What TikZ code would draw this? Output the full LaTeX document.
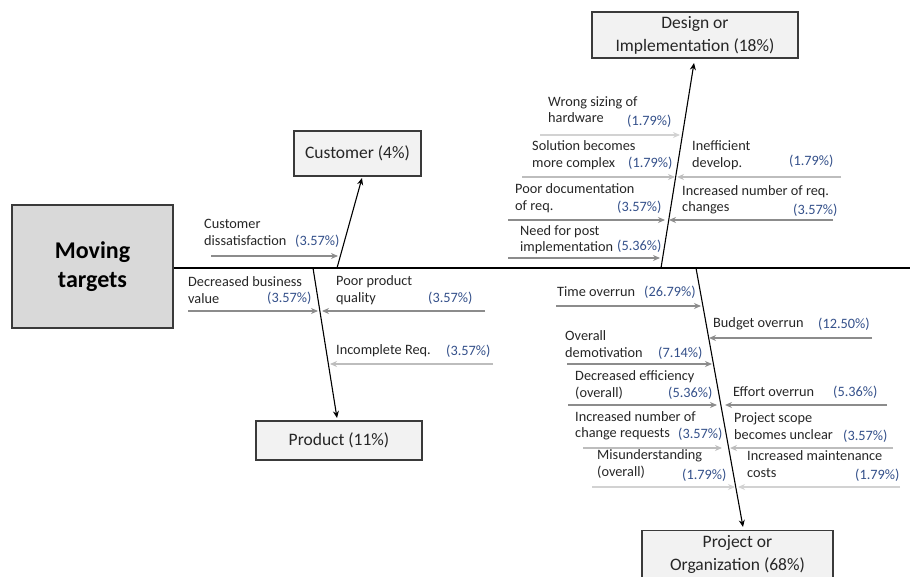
\documentclass[tikz,border=0pt]{standalone}
\usepackage{fontspec}
\setmainfont{Carlito}
\usetikzlibrary{arrows.meta}
\definecolor{pct}{HTML}{34508A}
\definecolor{txt}{HTML}{262626}
\definecolor{armid}{HTML}{8C8C8C}
\definecolor{arlight}{HTML}{BDBDBD}
\definecolor{arlighter}{HTML}{D2D2D2}
\definecolor{boxfill}{HTML}{F2F2F2}
\definecolor{mainfill}{HTML}{D9D9D9}
\definecolor{boxline}{HTML}{3A3A3A}
\tikzset{
  lbl/.style={anchor=west, inner sep=0pt, align=left, text=txt, font=\fontsize{14.3}{16.5}\selectfont},
  pc/.style={anchor=west, inner sep=0pt, text=pct, font=\fontsize{14.3}{16.5}\selectfont},
  causebox/.style={draw=boxline, line width=1.1pt, fill=boxfill, text=txt, align=center, inner sep=0pt, font=\fontsize{17.5}{23}\selectfont},
  bone/.style={line width=1.1pt, black, -{Stealth[length=7pt,width=6pt]}},
  cmid/.style={line width=1.8pt, armid, -{Stealth[length=7pt,width=6pt]}},
  clight/.style={line width=1.8pt, arlight, -{Stealth[length=7pt,width=6pt]}},
  clighter/.style={line width=1.8pt, arlighter, -{Stealth[length=7pt,width=6pt]}},
}
\begin{document}
\begin{tikzpicture}[x=1pt,y=-1pt]
\useasboundingbox (0,0) rectangle (910,577);
\clip (0,0) rectangle (910,577);
% head box
\node[draw=boxline, line width=1.1pt, fill=mainfill, minimum width=161pt, minimum height=123pt, align=center, inner sep=0pt, text=black, font=\fontsize{24}{29}\bfseries\selectfont] (head) at (92.5,266.5) {Moving\\targets};
% spine
\coordinate (spineend) at (912,268);
\draw[line width=2.2pt] (head.east |- 0,268) -- (spineend);
% cause boxes
\node[causebox, minimum width=127pt, minimum height=45pt] (cust) at (357.5,153.5) {Customer (4\%)};
\node[causebox, minimum width=166pt, minimum height=39pt] (prod) at (339,440.5) {Product (11\%)};
\node[causebox, minimum width=206pt, minimum height=46pt] (design) at (695,35) {Design or\\Implementation (18\%)};
\node[causebox, minimum width=191pt, anchor=north, inner ysep=5pt] (proj) at (737.5,530) {Project or\\Organization (68\%)\\[6pt]};
% bone coordinates
\coordinate (cbase) at (337,268); \coordinate (ctip) at (362,178);
\coordinate (pbase) at (313,268); \coordinate (ptip) at (337,418);
\coordinate (dbase) at (661,268); \coordinate (dtip) at (694,63);
\coordinate (obase) at (696,268); \coordinate (otip) at (743,527);
\draw[bone] (cbase) -- (ctip);
\draw[bone] (pbase) -- (ptip);
\draw[bone] (dbase) -- (dtip);
\draw[bone] (obase) -- (otip);
% customer
\node[lbl] (l1) at (204,232.5) {Customer\\dissatisfaction};
\node[pc] (p1) at (295,241) {(3.57\%)};
\draw[cmid] (211,256) -- (338,256);
% product
\node[lbl] (l2) at (188,290) {Decreased business\\value};
\node[pc] (p2) at (267,298) {(3.57\%)};
\draw[cmid] (188,311) -- (318,311);
\node[lbl] (l3) at (336,290) {Poor product\\quality};
\node[pc] (p3) at (428,298) {(3.57\%)};
\draw[cmid] (485,311) -- (322,311);
\node[lbl] (l4) at (336,351) {Incomplete Req.};
\node[pc] (p4) at (446,351) {(3.57\%)};
\draw[clight] (493,364) -- (330,364);
% design
\node[lbl] (l5) at (548,109.5) {Wrong sizing of\\hardware};
\node[pc] (p5) at (627,121) {(1.79\%)};
\draw[clighter] (540,135) -- (680,135);
\node[lbl] (l6) at (532,155) {Solution becomes\\more complex};
\node[pc] (p6) at (628,163) {(1.79\%)};
\draw[clight] (522,177) -- (675,177);
\node[lbl] (l7) at (692,155) {Inefficient\\develop.};
\node[pc] (p7) at (789,161) {(1.79\%)};
\draw[clight] (841,177) -- (677,177);
\node[lbl] (l8) at (515,198) {Poor documentation\\of req.};
\node[pc] (p8) at (617,207) {(3.57\%)};
\draw[cmid] (508,220) -- (665,220);
\node[lbl] (l9) at (682,200) {Increased number of req.\\changes};
\node[pc] (p9) at (793,210) {(3.57\%)};
\draw[cmid] (833,220) -- (669,220);
\node[lbl] (l10) at (520,239.5) {Need for post\\implementation};
\node[pc] (p10) at (617,246) {(5.36\%)};
\draw[cmid] (508,258) -- (660,258);
% project
\node[lbl] (l11) at (557,292) {Time overrun};
\node[pc] (p11) at (644,292) {(26.79\%)};
\draw[cmid] (556,306) -- (701,306);
\node[lbl] (l12) at (713,324) {Budget overrun};
\node[pc] (p12) at (818,324) {(12.50\%)};
\draw[cmid] (872,338) -- (709,338);
\node[lbl] (l13) at (565,344) {Overall\\demotivation};
\node[pc] (p13) at (658,353) {(7.14\%)};
\draw[cmid] (567,364) -- (712,364);
\node[lbl] (l14) at (575,385) {Decreased efficiency\\(overall)};
\node[pc] (p14) at (668,393) {(5.36\%)};
\draw[cmid] (568,405) -- (717,405);
\node[lbl] (l15) at (733,392) {Effort overrun};
\node[pc] (p15) at (833,392) {(5.36\%)};
\draw[cmid] (887,405) -- (725,405);
\node[lbl] (l16) at (575,426) {Increased number of\\change requests};
\node[pc] (p16) at (678,434) {(3.57\%)};
\draw[clight] (583,448) -- (722,448);
\node[lbl] (l17) at (734,426) {Project scope\\becomes unclear};
\node[pc] (p17) at (843,436) {(3.57\%)};
\draw[clight] (893,448) -- (730,448);
\node[lbl] (l18) at (597,464) {Misunderstanding\\(overall)};
\node[pc] (p18) at (682,475) {(1.79\%)};
\draw[clighter] (592,487) -- (735,487);
\node[lbl] (l19) at (747,464) {Increased maintenance\\costs};
\node[pc] (p19) at (855,475) {(1.79\%)};
\draw[clighter] (900,487) -- (738,487);
\end{tikzpicture}
\end{document}
